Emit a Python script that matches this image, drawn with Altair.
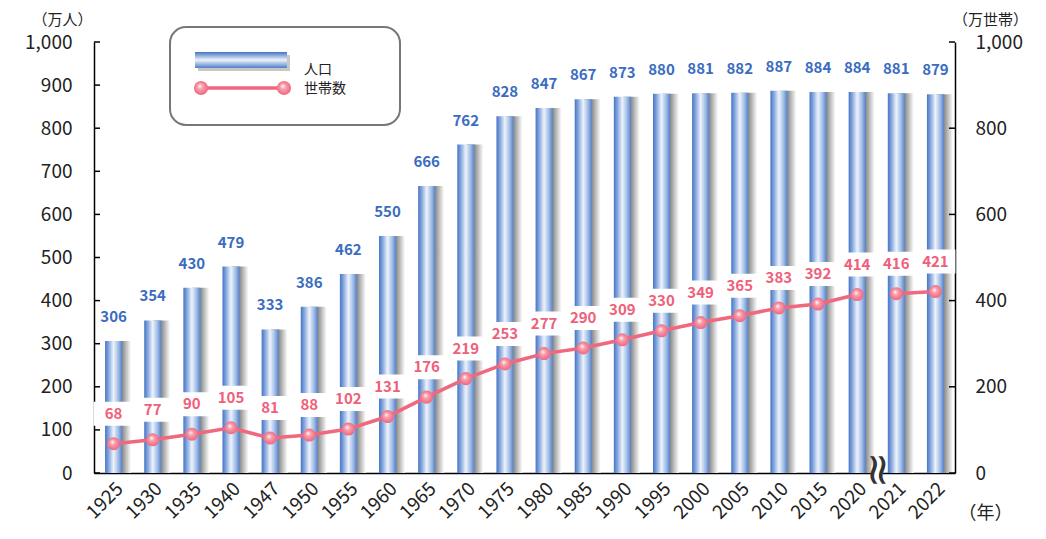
import altair as alt
import pandas as pd

years = ['1925', '1930', '1935', '1940', '1947', '1950', '1955', '1960', '1965', '1970', '1975',
         '1980', '1985', '1990', '1995', '2000', '2005', '2010', '2015', '2020', '2021', '2022']
population = [306, 354, 430, 479, 333, 386, 462, 550, 666, 762, 828,
              847, 867, 873, 880, 881, 882, 887, 884, 884, 881, 879]
households = [68, 77, 90, 105, 81, 88, 102, 131, 176, 219, 253,
              277, 290, 309, 330, 349, 365, 383, 392, 414, 416, 421]
segment = ['a'] * 20 + ['b'] * 2
left_ticks = list(range(0, 1001, 100))
right_ticks = list(range(0, 1001, 200))

FONT = "Noto Sans CJK JP"
W, H = 861, 431

df = pd.DataFrame({"year": years, "pop": population, "hh": households, "seg": segment})
lt = pd.DataFrame({"v": left_ticks})
rt = pd.DataFrame({"v": right_ticks})
one = pd.DataFrame({"a": [0]})

ysc = alt.Scale(domain=[0, 1000], nice=False)
xsc = alt.Scale(domain=years, paddingInner=0.5, paddingOuter=0.25)
x_axis = alt.Axis(
    title="（年）", titleAngle=0, titleX=891, titleY=40, titleBaseline="middle",
    titleFont=FONT, titleFontSize=18, titleFontWeight="normal", titleColor="#222",
    labelAngle=-45, labelFont=FONT, labelFontSize=19, labelColor="#222",
    labelPadding=6, ticks=False, domain=True, domainColor="#000", domainWidth=1.5)
X = alt.X("year:N", sort=years, scale=xsc, axis=x_axis)

blue = alt.Gradient(gradient="linear", x1=0, x2=1, y1=0, y2=0, stops=[
    alt.GradientStop(color="#4574c4", offset=0),
    alt.GradientStop(color="#88a9df", offset=0.22),
    alt.GradientStop(color="#eef3fb", offset=0.5),
    alt.GradientStop(color="#a0bce6", offset=0.78),
    alt.GradientStop(color="#5483cc", offset=1)])
shadow = alt.Gradient(gradient="linear", x1=0, x2=1, y1=0, y2=0, stops=[
    alt.GradientStop(color="#7d7d7d", offset=0),
    alt.GradientStop(color="#8f8f8f", offset=0.5),
    alt.GradientStop(color="#ffffff", offset=1)])
pink_ball = alt.Gradient(gradient="radial", x1=0.4, y1=0.35, r1=0, x2=0.5, y2=0.5, r2=0.55, stops=[
    alt.GradientStop(color="#ffffff", offset=0),
    alt.GradientStop(color="#f7a0ae", offset=0.35),
    alt.GradientStop(color="#ee6078", offset=1)])

base = alt.Chart(df)

shadow_bars = base.mark_bar(size=17, xOffset=9, fill=shadow).encode(
    x=X, y=alt.Y("pop:Q", scale=ysc, axis=None))

main_bars = base.mark_bar(size=17, fill=blue).encode(
    x=X,
    y=alt.Y("pop:Q", scale=ysc, axis=alt.Axis(
        orient="left", values=left_ticks, format=",d", title="（万人）", titleAngle=0,
        titleX=-32, titleY=-23, titleAlign="center", titleBaseline="middle",
        titleFont=FONT, titleFontSize=15, titleFontWeight="normal", titleColor="#222",
        labelFont=FONT, labelFontSize=19, labelColor="#222", labelPadding=22,
        ticks=False, domain=True, domainColor="#000", domainWidth=1.5, grid=False)))

pop_labels = base.mark_text(font=FONT, fontSize=15, fontWeight="bold", color="#3a6cbf",
                            baseline="middle", dy=-24).encode(
    x=X, y=alt.Y("pop:Q", scale=ysc, axis=None), text="pop:Q")

boxes = base.mark_point(shape="M-1,-0.6L1,-0.6L1,0.6L-1,0.6Z", size=1600, filled=True,
                        fill="white", opacity=1, strokeWidth=0, yOffset=-30).encode(
    x=X, y=alt.Y("hh:Q", scale=ysc, axis=None))

line = base.mark_line(color="#f0687e", strokeWidth=3.5).encode(
    x=X, y=alt.Y("hh:Q", scale=ysc, axis=None), detail="seg:N")

points = base.mark_point(shape="circle", size=170, filled=True, fill=pink_ball,
                         opacity=1, strokeWidth=0).encode(
    x=X, y=alt.Y("hh:Q", scale=ysc, axis=None))

hh_labels = base.mark_text(font=FONT, fontSize=15, fontWeight="bold", color="#f0607a",
                           baseline="middle", dy=-30).encode(
    x=X, y=alt.Y("hh:Q", scale=ysc, axis=None), text="hh:Q")

left_tick_marks = alt.Chart(lt).mark_rule(color="#000", strokeWidth=1.5).encode(
    y=alt.Y("v:Q", scale=ysc, axis=None), x=alt.value(0), x2=alt.value(6))

right_tick_marks = alt.Chart(rt).mark_rule(color="#000", strokeWidth=1.5).encode(
    y=alt.Y("v:Q", scale=ysc, axis=alt.Axis(
        orient="right", values=right_ticks, format=",d", title="（万世帯）", titleAngle=0,
        titleX=35, titleY=-23, titleAlign="center", titleBaseline="middle",
        titleFont=FONT, titleFontSize=15, titleFontWeight="normal", titleColor="#222",
        labelFont=FONT, labelFontSize=19, labelColor="#222", labelPadding=20,
        ticks=False, domain=True, domainColor="#000", domainWidth=1.5, grid=False)),
    x=alt.value(W - 6), x2=alt.value(W))

brk_df = pd.DataFrame({"year": ["2020"], "v": [0], "t": ["≈"]})
brk_bg = alt.Chart(brk_df).mark_point(shape="M-1,-1L1,-1L1,1L-1,1Z", size=130, filled=True,
                                      fill="white", opacity=1, strokeWidth=0,
                                      xOffset=20, yOffset=-2).encode(
    x=X, y=alt.Y("v:Q", scale=ysc, axis=None))
brk = alt.Chart(brk_df).mark_text(font="DejaVu Sans", fontSize=44, color="#333",
                                  xOffset=20, yOffset=-3, angle=90, baseline="middle",
                                  align="center").encode(
    x=X, y=alt.Y("v:Q", scale=ysc, axis=None), text="t:N")

# legend
leg_box = alt.Chart(one).mark_rect(fill="white", stroke="#777", strokeWidth=2,
                                   cornerRadius=16).encode(
    x=alt.value(76), x2=alt.value(306), y=alt.value(-15), y2=alt.value(83))
leg_bar_sh = alt.Chart(one).mark_rect(fill="#c8c8c8").encode(
    x=alt.value(104), x2=alt.value(196), y=alt.value(13), y2=alt.value(29))
leg_bar = alt.Chart(one).mark_rect(fill=alt.Gradient(
    gradient="linear", x1=0, x2=0, y1=0, y2=1, stops=[
        alt.GradientStop(color="#4574c4", offset=0),
        alt.GradientStop(color="#eef3fb", offset=0.5),
        alt.GradientStop(color="#4f7ecb", offset=1)])).encode(
    x=alt.value(101), x2=alt.value(193), y=alt.value(10), y2=alt.value(26))
leg_line = alt.Chart(one).mark_rule(color="#f0687e", strokeWidth=3.5).encode(
    x=alt.value(107), x2=alt.value(190), y=alt.value(46))
leg_pt1 = alt.Chart(one).mark_point(shape="circle", size=200, filled=True,
                                    fill=pink_ball, opacity=1, strokeWidth=0).encode(
    x=alt.value(107), y=alt.value(46))
leg_pt2 = alt.Chart(one).mark_point(shape="circle", size=200, filled=True,
                                    fill=pink_ball, opacity=1, strokeWidth=0).encode(
    x=alt.value(190), y=alt.value(46))
leg_t1 = alt.Chart(one).mark_text(text="人口", font=FONT, fontSize=14, color="#222",
                                  align="left", baseline="middle").encode(
    x=alt.value(210), y=alt.value(28))
leg_t2 = alt.Chart(one).mark_text(text="世帯数", font=FONT, fontSize=14, color="#222",
                                  align="left", baseline="middle").encode(
    x=alt.value(210), y=alt.value(47))

chart = alt.layer(
    shadow_bars, main_bars, pop_labels, boxes, line, points, hh_labels,
    left_tick_marks, right_tick_marks, brk_bg, brk,
    leg_box, leg_bar_sh, leg_bar, leg_line, leg_pt1, leg_pt2, leg_t1, leg_t2
).resolve_axis(y="independent").properties(
    width=W, height=H,
    autosize=alt.AutoSizeParams(type="none"),
    padding={"left": 86, "top": 34, "right": 83, "bottom": 56},
    background="white"
).configure_view(stroke=None)

chart.save("out.html", embed_options={"renderer": "svg", "actions": False})
